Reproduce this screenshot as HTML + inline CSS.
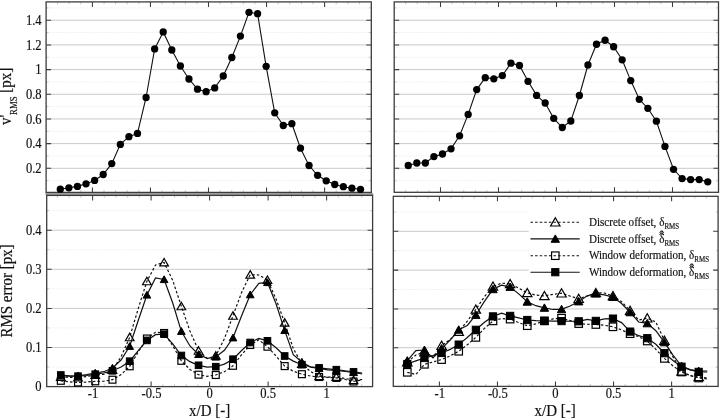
<!DOCTYPE html>
<html><head><meta charset="utf-8"><title>RMS profiles</title>
<style>
html,body{margin:0;padding:0;background:#fff}
body{width:720px;height:420px;overflow:hidden}
svg{display:block}
text{font-family:"Liberation Serif","DejaVu Serif",serif;fill:#111;stroke:#111;stroke-width:0.18px}
</style></head><body>
<svg width="720" height="420" viewBox="0 0 720 420">
<rect width="720" height="420" fill="#fff"/>
<g>
<line x1="46.1" y1="180.66" x2="371.3" y2="180.66" stroke="#ececec" stroke-width="1" stroke-dasharray="1.2 1.2"/>
<line x1="46.1" y1="155.98" x2="371.3" y2="155.98" stroke="#ececec" stroke-width="1" stroke-dasharray="1.2 1.2"/>
<line x1="46.1" y1="131.3" x2="371.3" y2="131.3" stroke="#ececec" stroke-width="1" stroke-dasharray="1.2 1.2"/>
<line x1="46.1" y1="106.62" x2="371.3" y2="106.62" stroke="#ececec" stroke-width="1" stroke-dasharray="1.2 1.2"/>
<line x1="46.1" y1="81.94" x2="371.3" y2="81.94" stroke="#ececec" stroke-width="1" stroke-dasharray="1.2 1.2"/>
<line x1="46.1" y1="57.26" x2="371.3" y2="57.26" stroke="#ececec" stroke-width="1" stroke-dasharray="1.2 1.2"/>
<line x1="46.1" y1="32.58" x2="371.3" y2="32.58" stroke="#ececec" stroke-width="1" stroke-dasharray="1.2 1.2"/>
<line x1="46.1" y1="7.9" x2="371.3" y2="7.9" stroke="#ececec" stroke-width="1" stroke-dasharray="1.2 1.2"/>
<line x1="46.1" y1="168.32" x2="371.3" y2="168.32" stroke="#cacaca" stroke-width="1"/>
<line x1="46.1" y1="143.64" x2="371.3" y2="143.64" stroke="#cacaca" stroke-width="1"/>
<line x1="46.1" y1="118.96" x2="371.3" y2="118.96" stroke="#cacaca" stroke-width="1"/>
<line x1="46.1" y1="94.28" x2="371.3" y2="94.28" stroke="#cacaca" stroke-width="1"/>
<line x1="46.1" y1="69.6" x2="371.3" y2="69.6" stroke="#cacaca" stroke-width="1"/>
<line x1="46.1" y1="44.92" x2="371.3" y2="44.92" stroke="#cacaca" stroke-width="1"/>
<line x1="46.1" y1="20.24" x2="371.3" y2="20.24" stroke="#cacaca" stroke-width="1"/>
<path d="M57.57 1.9v2.4M57.57 192.4v-2.4" stroke="#bcbcbc" stroke-width="0.8"/>
<path d="M69.18 1.9v2.4M69.18 192.4v-2.4" stroke="#bcbcbc" stroke-width="0.8"/>
<path d="M80.79 1.9v2.4M80.79 192.4v-2.4" stroke="#bcbcbc" stroke-width="0.8"/>
<path d="M104.01 1.9v2.4M104.01 192.4v-2.4" stroke="#bcbcbc" stroke-width="0.8"/>
<path d="M115.62 1.9v2.4M115.62 192.4v-2.4" stroke="#bcbcbc" stroke-width="0.8"/>
<path d="M127.23 1.9v2.4M127.23 192.4v-2.4" stroke="#bcbcbc" stroke-width="0.8"/>
<path d="M138.84 1.9v2.4M138.84 192.4v-2.4" stroke="#bcbcbc" stroke-width="0.8"/>
<path d="M162.06 1.9v2.4M162.06 192.4v-2.4" stroke="#bcbcbc" stroke-width="0.8"/>
<path d="M173.67 1.9v2.4M173.67 192.4v-2.4" stroke="#bcbcbc" stroke-width="0.8"/>
<path d="M185.28 1.9v2.4M185.28 192.4v-2.4" stroke="#bcbcbc" stroke-width="0.8"/>
<path d="M196.89 1.9v2.4M196.89 192.4v-2.4" stroke="#bcbcbc" stroke-width="0.8"/>
<path d="M220.11 1.9v2.4M220.11 192.4v-2.4" stroke="#bcbcbc" stroke-width="0.8"/>
<path d="M231.72 1.9v2.4M231.72 192.4v-2.4" stroke="#bcbcbc" stroke-width="0.8"/>
<path d="M243.33 1.9v2.4M243.33 192.4v-2.4" stroke="#bcbcbc" stroke-width="0.8"/>
<path d="M254.94 1.9v2.4M254.94 192.4v-2.4" stroke="#bcbcbc" stroke-width="0.8"/>
<path d="M278.16 1.9v2.4M278.16 192.4v-2.4" stroke="#bcbcbc" stroke-width="0.8"/>
<path d="M289.77 1.9v2.4M289.77 192.4v-2.4" stroke="#bcbcbc" stroke-width="0.8"/>
<path d="M301.38 1.9v2.4M301.38 192.4v-2.4" stroke="#bcbcbc" stroke-width="0.8"/>
<path d="M312.99 1.9v2.4M312.99 192.4v-2.4" stroke="#bcbcbc" stroke-width="0.8"/>
<path d="M336.21 1.9v2.4M336.21 192.4v-2.4" stroke="#bcbcbc" stroke-width="0.8"/>
<path d="M347.82 1.9v2.4M347.82 192.4v-2.4" stroke="#bcbcbc" stroke-width="0.8"/>
<path d="M359.43 1.9v2.4M359.43 192.4v-2.4" stroke="#bcbcbc" stroke-width="0.8"/>
<path d="M46.1 180.66h2.4M371.3 180.66h-2.4" stroke="#bcbcbc" stroke-width="0.8"/>
<path d="M46.1 155.98h2.4M371.3 155.98h-2.4" stroke="#bcbcbc" stroke-width="0.8"/>
<path d="M46.1 131.3h2.4M371.3 131.3h-2.4" stroke="#bcbcbc" stroke-width="0.8"/>
<path d="M46.1 106.62h2.4M371.3 106.62h-2.4" stroke="#bcbcbc" stroke-width="0.8"/>
<path d="M46.1 81.94h2.4M371.3 81.94h-2.4" stroke="#bcbcbc" stroke-width="0.8"/>
<path d="M46.1 57.26h2.4M371.3 57.26h-2.4" stroke="#bcbcbc" stroke-width="0.8"/>
<path d="M46.1 32.58h2.4M371.3 32.58h-2.4" stroke="#bcbcbc" stroke-width="0.8"/>
<path d="M46.1 7.9h2.4M371.3 7.9h-2.4" stroke="#bcbcbc" stroke-width="0.8"/>
<path d="M92.4 1.9v5M92.4 192.4v-5" stroke="#3c3c3c" stroke-width="1.05"/>
<path d="M150.45 1.9v5M150.45 192.4v-5" stroke="#3c3c3c" stroke-width="1.05"/>
<path d="M208.5 1.9v5M208.5 192.4v-5" stroke="#3c3c3c" stroke-width="1.05"/>
<path d="M266.55 1.9v5M266.55 192.4v-5" stroke="#3c3c3c" stroke-width="1.05"/>
<path d="M324.6 1.9v5M324.6 192.4v-5" stroke="#3c3c3c" stroke-width="1.05"/>
<path d="M46.1 168.32h5M371.3 168.32h-5" stroke="#3c3c3c" stroke-width="1.05"/>
<path d="M46.1 143.64h5M371.3 143.64h-5" stroke="#3c3c3c" stroke-width="1.05"/>
<path d="M46.1 118.96h5M371.3 118.96h-5" stroke="#3c3c3c" stroke-width="1.05"/>
<path d="M46.1 94.28h5M371.3 94.28h-5" stroke="#3c3c3c" stroke-width="1.05"/>
<path d="M46.1 69.6h5M371.3 69.6h-5" stroke="#3c3c3c" stroke-width="1.05"/>
<path d="M46.1 44.92h5M371.3 44.92h-5" stroke="#3c3c3c" stroke-width="1.05"/>
<path d="M46.1 20.24h5M371.3 20.24h-5" stroke="#3c3c3c" stroke-width="1.05"/>
<rect x="46.1" y="1.9" width="325.2" height="190.5" fill="none" stroke="#3c3c3c" stroke-width="1.3"/>
<polyline fill="none" stroke="#111" stroke-width="1.1" points="60.3,189.2 68.88,187.8 77.45,186.4 86.03,183.8 94.61,180.4 103.19,174.5 111.76,163.6 120.34,144.4 128.92,136.7 137.49,133.4 146.07,97.5 154.65,48.9 163.22,31.9 171.8,50 180.38,66 188.95,79 197.53,89.2 206.11,91.7 214.69,87.9 223.26,76 231.84,57.5 240.42,36.1 248.99,12.3 257.57,13.7 266.15,66.3 274.73,112.8 283.3,125.5 291.88,123.7 300.46,148.2 309.03,165.5 317.61,175.3 326.19,180.8 334.76,184.5 343.34,186.7 351.92,188.2 360.5,189.3"/>
<g fill="#000"><circle cx="60.3" cy="189.2" r="3.65"/><circle cx="68.88" cy="187.8" r="3.65"/><circle cx="77.45" cy="186.4" r="3.65"/><circle cx="86.03" cy="183.8" r="3.65"/><circle cx="94.61" cy="180.4" r="3.65"/><circle cx="103.19" cy="174.5" r="3.65"/><circle cx="111.76" cy="163.6" r="3.65"/><circle cx="120.34" cy="144.4" r="3.65"/><circle cx="128.92" cy="136.7" r="3.65"/><circle cx="137.49" cy="133.4" r="3.65"/><circle cx="146.07" cy="97.5" r="3.65"/><circle cx="154.65" cy="48.9" r="3.65"/><circle cx="163.22" cy="31.9" r="3.65"/><circle cx="171.8" cy="50" r="3.65"/><circle cx="180.38" cy="66" r="3.65"/><circle cx="188.95" cy="79" r="3.65"/><circle cx="197.53" cy="89.2" r="3.65"/><circle cx="206.11" cy="91.7" r="3.65"/><circle cx="214.69" cy="87.9" r="3.65"/><circle cx="223.26" cy="76" r="3.65"/><circle cx="231.84" cy="57.5" r="3.65"/><circle cx="240.42" cy="36.1" r="3.65"/><circle cx="248.99" cy="12.3" r="3.65"/><circle cx="257.57" cy="13.7" r="3.65"/><circle cx="266.15" cy="66.3" r="3.65"/><circle cx="274.73" cy="112.8" r="3.65"/><circle cx="283.3" cy="125.5" r="3.65"/><circle cx="291.88" cy="123.7" r="3.65"/><circle cx="300.46" cy="148.2" r="3.65"/><circle cx="309.03" cy="165.5" r="3.65"/><circle cx="317.61" cy="175.3" r="3.65"/><circle cx="326.19" cy="180.8" r="3.65"/><circle cx="334.76" cy="184.5" r="3.65"/><circle cx="343.34" cy="186.7" r="3.65"/><circle cx="351.92" cy="188.2" r="3.65"/><circle cx="360.5" cy="189.3" r="3.65"/></g>
</g>
<g>
<line x1="394.2" y1="180.66" x2="718.5" y2="180.66" stroke="#ececec" stroke-width="1" stroke-dasharray="1.2 1.2"/>
<line x1="394.2" y1="155.98" x2="718.5" y2="155.98" stroke="#ececec" stroke-width="1" stroke-dasharray="1.2 1.2"/>
<line x1="394.2" y1="131.3" x2="718.5" y2="131.3" stroke="#ececec" stroke-width="1" stroke-dasharray="1.2 1.2"/>
<line x1="394.2" y1="106.62" x2="718.5" y2="106.62" stroke="#ececec" stroke-width="1" stroke-dasharray="1.2 1.2"/>
<line x1="394.2" y1="81.94" x2="718.5" y2="81.94" stroke="#ececec" stroke-width="1" stroke-dasharray="1.2 1.2"/>
<line x1="394.2" y1="57.26" x2="718.5" y2="57.26" stroke="#ececec" stroke-width="1" stroke-dasharray="1.2 1.2"/>
<line x1="394.2" y1="32.58" x2="718.5" y2="32.58" stroke="#ececec" stroke-width="1" stroke-dasharray="1.2 1.2"/>
<line x1="394.2" y1="7.9" x2="718.5" y2="7.9" stroke="#ececec" stroke-width="1" stroke-dasharray="1.2 1.2"/>
<line x1="394.2" y1="168.32" x2="718.5" y2="168.32" stroke="#cacaca" stroke-width="1"/>
<line x1="394.2" y1="143.64" x2="718.5" y2="143.64" stroke="#cacaca" stroke-width="1"/>
<line x1="394.2" y1="118.96" x2="718.5" y2="118.96" stroke="#cacaca" stroke-width="1"/>
<line x1="394.2" y1="94.28" x2="718.5" y2="94.28" stroke="#cacaca" stroke-width="1"/>
<line x1="394.2" y1="69.6" x2="718.5" y2="69.6" stroke="#cacaca" stroke-width="1"/>
<line x1="394.2" y1="44.92" x2="718.5" y2="44.92" stroke="#cacaca" stroke-width="1"/>
<line x1="394.2" y1="20.24" x2="718.5" y2="20.24" stroke="#cacaca" stroke-width="1"/>
<path d="M405.7 1.9v2.4M405.7 192.3v-2.4" stroke="#bcbcbc" stroke-width="0.8"/>
<path d="M417.3 1.9v2.4M417.3 192.3v-2.4" stroke="#bcbcbc" stroke-width="0.8"/>
<path d="M428.9 1.9v2.4M428.9 192.3v-2.4" stroke="#bcbcbc" stroke-width="0.8"/>
<path d="M452.1 1.9v2.4M452.1 192.3v-2.4" stroke="#bcbcbc" stroke-width="0.8"/>
<path d="M463.7 1.9v2.4M463.7 192.3v-2.4" stroke="#bcbcbc" stroke-width="0.8"/>
<path d="M475.3 1.9v2.4M475.3 192.3v-2.4" stroke="#bcbcbc" stroke-width="0.8"/>
<path d="M486.9 1.9v2.4M486.9 192.3v-2.4" stroke="#bcbcbc" stroke-width="0.8"/>
<path d="M510.1 1.9v2.4M510.1 192.3v-2.4" stroke="#bcbcbc" stroke-width="0.8"/>
<path d="M521.7 1.9v2.4M521.7 192.3v-2.4" stroke="#bcbcbc" stroke-width="0.8"/>
<path d="M533.3 1.9v2.4M533.3 192.3v-2.4" stroke="#bcbcbc" stroke-width="0.8"/>
<path d="M544.9 1.9v2.4M544.9 192.3v-2.4" stroke="#bcbcbc" stroke-width="0.8"/>
<path d="M568.1 1.9v2.4M568.1 192.3v-2.4" stroke="#bcbcbc" stroke-width="0.8"/>
<path d="M579.7 1.9v2.4M579.7 192.3v-2.4" stroke="#bcbcbc" stroke-width="0.8"/>
<path d="M591.3 1.9v2.4M591.3 192.3v-2.4" stroke="#bcbcbc" stroke-width="0.8"/>
<path d="M602.9 1.9v2.4M602.9 192.3v-2.4" stroke="#bcbcbc" stroke-width="0.8"/>
<path d="M626.1 1.9v2.4M626.1 192.3v-2.4" stroke="#bcbcbc" stroke-width="0.8"/>
<path d="M637.7 1.9v2.4M637.7 192.3v-2.4" stroke="#bcbcbc" stroke-width="0.8"/>
<path d="M649.3 1.9v2.4M649.3 192.3v-2.4" stroke="#bcbcbc" stroke-width="0.8"/>
<path d="M660.9 1.9v2.4M660.9 192.3v-2.4" stroke="#bcbcbc" stroke-width="0.8"/>
<path d="M684.1 1.9v2.4M684.1 192.3v-2.4" stroke="#bcbcbc" stroke-width="0.8"/>
<path d="M695.7 1.9v2.4M695.7 192.3v-2.4" stroke="#bcbcbc" stroke-width="0.8"/>
<path d="M707.3 1.9v2.4M707.3 192.3v-2.4" stroke="#bcbcbc" stroke-width="0.8"/>
<path d="M394.2 180.66h2.4M718.5 180.66h-2.4" stroke="#bcbcbc" stroke-width="0.8"/>
<path d="M394.2 155.98h2.4M718.5 155.98h-2.4" stroke="#bcbcbc" stroke-width="0.8"/>
<path d="M394.2 131.3h2.4M718.5 131.3h-2.4" stroke="#bcbcbc" stroke-width="0.8"/>
<path d="M394.2 106.62h2.4M718.5 106.62h-2.4" stroke="#bcbcbc" stroke-width="0.8"/>
<path d="M394.2 81.94h2.4M718.5 81.94h-2.4" stroke="#bcbcbc" stroke-width="0.8"/>
<path d="M394.2 57.26h2.4M718.5 57.26h-2.4" stroke="#bcbcbc" stroke-width="0.8"/>
<path d="M394.2 32.58h2.4M718.5 32.58h-2.4" stroke="#bcbcbc" stroke-width="0.8"/>
<path d="M394.2 7.9h2.4M718.5 7.9h-2.4" stroke="#bcbcbc" stroke-width="0.8"/>
<path d="M440.5 1.9v5M440.5 192.3v-5" stroke="#3c3c3c" stroke-width="1.05"/>
<path d="M498.5 1.9v5M498.5 192.3v-5" stroke="#3c3c3c" stroke-width="1.05"/>
<path d="M556.5 1.9v5M556.5 192.3v-5" stroke="#3c3c3c" stroke-width="1.05"/>
<path d="M614.5 1.9v5M614.5 192.3v-5" stroke="#3c3c3c" stroke-width="1.05"/>
<path d="M672.5 1.9v5M672.5 192.3v-5" stroke="#3c3c3c" stroke-width="1.05"/>
<path d="M394.2 168.32h5M718.5 168.32h-5" stroke="#3c3c3c" stroke-width="1.05"/>
<path d="M394.2 143.64h5M718.5 143.64h-5" stroke="#3c3c3c" stroke-width="1.05"/>
<path d="M394.2 118.96h5M718.5 118.96h-5" stroke="#3c3c3c" stroke-width="1.05"/>
<path d="M394.2 94.28h5M718.5 94.28h-5" stroke="#3c3c3c" stroke-width="1.05"/>
<path d="M394.2 69.6h5M718.5 69.6h-5" stroke="#3c3c3c" stroke-width="1.05"/>
<path d="M394.2 44.92h5M718.5 44.92h-5" stroke="#3c3c3c" stroke-width="1.05"/>
<path d="M394.2 20.24h5M718.5 20.24h-5" stroke="#3c3c3c" stroke-width="1.05"/>
<rect x="394.2" y="1.9" width="324.3" height="190.4" fill="none" stroke="#3c3c3c" stroke-width="1.3"/>
<polyline fill="none" stroke="#111" stroke-width="1.1" points="408.25,165.5 416.81,163 425.36,163 433.92,156.6 442.48,154 451.04,148.8 459.59,135.8 468.15,114.4 476.71,89.6 485.26,77.7 493.82,78.8 502.38,75.6 510.93,63.2 519.49,65.5 528.05,81.3 536.61,95.4 545.16,103 553.72,118.3 562.28,127.5 570.83,121 579.39,95.5 587.95,65 596.5,44.25 605.06,40.25 613.62,46.75 622.17,59.8 630.73,80.6 639.29,99.3 647.85,108.3 656.4,121.2 664.96,146.4 673.52,169.3 682.07,178.6 690.63,179.6 699.19,179.6 707.75,181.8"/>
<g fill="#000"><circle cx="408.25" cy="165.5" r="3.65"/><circle cx="416.81" cy="163" r="3.65"/><circle cx="425.36" cy="163" r="3.65"/><circle cx="433.92" cy="156.6" r="3.65"/><circle cx="442.48" cy="154" r="3.65"/><circle cx="451.04" cy="148.8" r="3.65"/><circle cx="459.59" cy="135.8" r="3.65"/><circle cx="468.15" cy="114.4" r="3.65"/><circle cx="476.71" cy="89.6" r="3.65"/><circle cx="485.26" cy="77.7" r="3.65"/><circle cx="493.82" cy="78.8" r="3.65"/><circle cx="502.38" cy="75.6" r="3.65"/><circle cx="510.93" cy="63.2" r="3.65"/><circle cx="519.49" cy="65.5" r="3.65"/><circle cx="528.05" cy="81.3" r="3.65"/><circle cx="536.61" cy="95.4" r="3.65"/><circle cx="545.16" cy="103" r="3.65"/><circle cx="553.72" cy="118.3" r="3.65"/><circle cx="562.28" cy="127.5" r="3.65"/><circle cx="570.83" cy="121" r="3.65"/><circle cx="579.39" cy="95.5" r="3.65"/><circle cx="587.95" cy="65" r="3.65"/><circle cx="596.5" cy="44.25" r="3.65"/><circle cx="605.06" cy="40.25" r="3.65"/><circle cx="613.62" cy="46.75" r="3.65"/><circle cx="622.17" cy="59.8" r="3.65"/><circle cx="630.73" cy="80.6" r="3.65"/><circle cx="639.29" cy="99.3" r="3.65"/><circle cx="647.85" cy="108.3" r="3.65"/><circle cx="656.4" cy="121.2" r="3.65"/><circle cx="664.96" cy="146.4" r="3.65"/><circle cx="673.52" cy="169.3" r="3.65"/><circle cx="682.07" cy="178.6" r="3.65"/><circle cx="690.63" cy="179.6" r="3.65"/><circle cx="699.19" cy="179.6" r="3.65"/><circle cx="707.75" cy="181.8" r="3.65"/></g>
</g>
<rect x="45.4" y="193" width="327.8" height="2" fill="#9c9c9c"/>
<g>
<line x1="46.7" y1="367.05" x2="372.6" y2="367.05" stroke="#ececec" stroke-width="1" stroke-dasharray="1.2 1.2"/>
<line x1="46.7" y1="327.95" x2="372.6" y2="327.95" stroke="#ececec" stroke-width="1" stroke-dasharray="1.2 1.2"/>
<line x1="46.7" y1="288.85" x2="372.6" y2="288.85" stroke="#ececec" stroke-width="1" stroke-dasharray="1.2 1.2"/>
<line x1="46.7" y1="249.75" x2="372.6" y2="249.75" stroke="#ececec" stroke-width="1" stroke-dasharray="1.2 1.2"/>
<line x1="46.7" y1="210.65" x2="372.6" y2="210.65" stroke="#ececec" stroke-width="1" stroke-dasharray="1.2 1.2"/>
<line x1="46.7" y1="347.5" x2="372.6" y2="347.5" stroke="#cacaca" stroke-width="1"/>
<line x1="46.7" y1="308.4" x2="372.6" y2="308.4" stroke="#cacaca" stroke-width="1"/>
<line x1="46.7" y1="269.3" x2="372.6" y2="269.3" stroke="#cacaca" stroke-width="1"/>
<line x1="46.7" y1="230.2" x2="372.6" y2="230.2" stroke="#cacaca" stroke-width="1"/>
<path d="M57.5 195.4v2.4M57.5 386.6v-2.4" stroke="#bcbcbc" stroke-width="0.8"/>
<path d="M69.2 195.4v2.4M69.2 386.6v-2.4" stroke="#bcbcbc" stroke-width="0.8"/>
<path d="M80.9 195.4v2.4M80.9 386.6v-2.4" stroke="#bcbcbc" stroke-width="0.8"/>
<path d="M104.3 195.4v2.4M104.3 386.6v-2.4" stroke="#bcbcbc" stroke-width="0.8"/>
<path d="M116 195.4v2.4M116 386.6v-2.4" stroke="#bcbcbc" stroke-width="0.8"/>
<path d="M127.7 195.4v2.4M127.7 386.6v-2.4" stroke="#bcbcbc" stroke-width="0.8"/>
<path d="M139.4 195.4v2.4M139.4 386.6v-2.4" stroke="#bcbcbc" stroke-width="0.8"/>
<path d="M162.8 195.4v2.4M162.8 386.6v-2.4" stroke="#bcbcbc" stroke-width="0.8"/>
<path d="M174.5 195.4v2.4M174.5 386.6v-2.4" stroke="#bcbcbc" stroke-width="0.8"/>
<path d="M186.2 195.4v2.4M186.2 386.6v-2.4" stroke="#bcbcbc" stroke-width="0.8"/>
<path d="M197.9 195.4v2.4M197.9 386.6v-2.4" stroke="#bcbcbc" stroke-width="0.8"/>
<path d="M221.3 195.4v2.4M221.3 386.6v-2.4" stroke="#bcbcbc" stroke-width="0.8"/>
<path d="M233 195.4v2.4M233 386.6v-2.4" stroke="#bcbcbc" stroke-width="0.8"/>
<path d="M244.7 195.4v2.4M244.7 386.6v-2.4" stroke="#bcbcbc" stroke-width="0.8"/>
<path d="M256.4 195.4v2.4M256.4 386.6v-2.4" stroke="#bcbcbc" stroke-width="0.8"/>
<path d="M279.8 195.4v2.4M279.8 386.6v-2.4" stroke="#bcbcbc" stroke-width="0.8"/>
<path d="M291.5 195.4v2.4M291.5 386.6v-2.4" stroke="#bcbcbc" stroke-width="0.8"/>
<path d="M303.2 195.4v2.4M303.2 386.6v-2.4" stroke="#bcbcbc" stroke-width="0.8"/>
<path d="M314.9 195.4v2.4M314.9 386.6v-2.4" stroke="#bcbcbc" stroke-width="0.8"/>
<path d="M338.3 195.4v2.4M338.3 386.6v-2.4" stroke="#bcbcbc" stroke-width="0.8"/>
<path d="M350 195.4v2.4M350 386.6v-2.4" stroke="#bcbcbc" stroke-width="0.8"/>
<path d="M361.7 195.4v2.4M361.7 386.6v-2.4" stroke="#bcbcbc" stroke-width="0.8"/>
<path d="M46.7 367.05h2.4M372.6 367.05h-2.4" stroke="#bcbcbc" stroke-width="0.8"/>
<path d="M46.7 327.95h2.4M372.6 327.95h-2.4" stroke="#bcbcbc" stroke-width="0.8"/>
<path d="M46.7 288.85h2.4M372.6 288.85h-2.4" stroke="#bcbcbc" stroke-width="0.8"/>
<path d="M46.7 249.75h2.4M372.6 249.75h-2.4" stroke="#bcbcbc" stroke-width="0.8"/>
<path d="M46.7 210.65h2.4M372.6 210.65h-2.4" stroke="#bcbcbc" stroke-width="0.8"/>
<path d="M92.6 195.4v5M92.6 386.6v-5" stroke="#3c3c3c" stroke-width="1.05"/>
<path d="M151.1 195.4v5M151.1 386.6v-5" stroke="#3c3c3c" stroke-width="1.05"/>
<path d="M209.6 195.4v5M209.6 386.6v-5" stroke="#3c3c3c" stroke-width="1.05"/>
<path d="M268.1 195.4v5M268.1 386.6v-5" stroke="#3c3c3c" stroke-width="1.05"/>
<path d="M326.6 195.4v5M326.6 386.6v-5" stroke="#3c3c3c" stroke-width="1.05"/>
<path d="M46.7 347.5h5M372.6 347.5h-5" stroke="#3c3c3c" stroke-width="1.05"/>
<path d="M46.7 308.4h5M372.6 308.4h-5" stroke="#3c3c3c" stroke-width="1.05"/>
<path d="M46.7 269.3h5M372.6 269.3h-5" stroke="#3c3c3c" stroke-width="1.05"/>
<path d="M46.7 230.2h5M372.6 230.2h-5" stroke="#3c3c3c" stroke-width="1.05"/>
<rect x="46.7" y="195.4" width="325.9" height="191.2" fill="none" stroke="#3c3c3c" stroke-width="1.3"/>
<polyline fill="none" stroke="#111" stroke-width="1.2" stroke-dasharray="2.5 2.1" points="60.8,377 69.41,377.44 78.02,377.5 86.63,376.59 95.24,375 103.85,374.39 112.46,370 121.07,356.84 129.68,337.3 138.29,308.43 146.9,281.3 155.51,265 164.12,262.5 172.73,280.44 181.34,306.3 189.95,330.98 198.56,350.8 207.17,358.58 215.78,355.8 224.39,338.68 233,315.8 241.61,292.42 250.22,274.7 258.83,275 267.44,280 276.05,299.1 284.66,322.7 293.27,348.5 301.88,364 310.49,371.5 319.1,376.2 327.71,377.16 336.32,377 344.93,378.45 353.54,380.2 362.15,379.5"/>
<path d="M60.8 372.93L65.12 380.47H56.48Z" fill="none" stroke="#000" stroke-width="1.2"/><path d="M78.02 373.43L82.34 380.97H73.7Z" fill="none" stroke="#000" stroke-width="1.2"/><path d="M95.24 370.93L99.56 378.47H90.92Z" fill="none" stroke="#000" stroke-width="1.2"/><path d="M112.46 365.93L116.78 373.47H108.14Z" fill="none" stroke="#000" stroke-width="1.2"/><path d="M129.68 333.23L134 340.77H125.36Z" fill="none" stroke="#000" stroke-width="1.2"/><path d="M146.9 277.23L151.22 284.77H142.58Z" fill="none" stroke="#000" stroke-width="1.2"/><path d="M164.12 258.43L168.44 265.97H159.8Z" fill="none" stroke="#000" stroke-width="1.2"/><path d="M181.34 302.23L185.66 309.77H177.02Z" fill="none" stroke="#000" stroke-width="1.2"/><path d="M198.56 346.73L202.88 354.27H194.24Z" fill="none" stroke="#000" stroke-width="1.2"/><path d="M215.78 351.73L220.1 359.27H211.46Z" fill="none" stroke="#000" stroke-width="1.2"/><path d="M233 311.73L237.32 319.27H228.68Z" fill="none" stroke="#000" stroke-width="1.2"/><path d="M250.22 270.63L254.54 278.17H245.9Z" fill="none" stroke="#000" stroke-width="1.2"/><path d="M267.44 275.93L271.76 283.47H263.12Z" fill="none" stroke="#000" stroke-width="1.2"/><path d="M284.66 318.63L288.98 326.17H280.34Z" fill="none" stroke="#000" stroke-width="1.2"/><path d="M301.88 359.93L306.2 367.47H297.56Z" fill="none" stroke="#000" stroke-width="1.2"/><path d="M319.1 372.13L323.42 379.67H314.78Z" fill="none" stroke="#000" stroke-width="1.2"/><path d="M336.32 372.93L340.64 380.47H332Z" fill="none" stroke="#000" stroke-width="1.2"/><path d="M353.54 376.13L357.86 383.67H349.22Z" fill="none" stroke="#000" stroke-width="1.2"/>
<polyline fill="none" stroke="#111" stroke-width="1.2" points="60.8,376 69.41,376.06 78.02,375.8 86.63,374.7 95.24,373 103.85,371.68 112.46,368 121.07,360.04 129.68,346.3 138.29,320.26 146.9,295 155.51,278 164.12,279.5 172.73,302.99 181.34,331.3 189.95,345.93 198.56,354.4 207.17,358.34 215.78,357 224.39,350.26 233,337.8 241.61,315.81 250.22,294.7 258.83,283.3 267.44,282.5 276.05,303.71 284.66,330.4 293.27,354.6 301.88,362 310.49,367.1 319.1,368.5 327.71,369.78 336.32,370.5 344.93,371.5 353.54,372.5 362.15,374"/>
<path d="M60.8 372.3L64.66 379.1H56.94Z" fill="#000" stroke="#000" stroke-width="1"/><path d="M78.02 372.1L81.88 378.9H74.16Z" fill="#000" stroke="#000" stroke-width="1"/><path d="M95.24 369.3L99.1 376.1H91.38Z" fill="#000" stroke="#000" stroke-width="1"/><path d="M112.46 364.3L116.32 371.1H108.6Z" fill="#000" stroke="#000" stroke-width="1"/><path d="M129.68 342.6L133.54 349.4H125.82Z" fill="#000" stroke="#000" stroke-width="1"/><path d="M146.9 291.3L150.76 298.1H143.04Z" fill="#000" stroke="#000" stroke-width="1"/><path d="M164.12 275.8L167.98 282.6H160.26Z" fill="#000" stroke="#000" stroke-width="1"/><path d="M181.34 327.6L185.2 334.4H177.48Z" fill="#000" stroke="#000" stroke-width="1"/><path d="M198.56 350.7L202.42 357.5H194.7Z" fill="#000" stroke="#000" stroke-width="1"/><path d="M215.78 353.3L219.64 360.1H211.92Z" fill="#000" stroke="#000" stroke-width="1"/><path d="M233 334.1L236.86 340.9H229.14Z" fill="#000" stroke="#000" stroke-width="1"/><path d="M250.22 291L254.08 297.8H246.36Z" fill="#000" stroke="#000" stroke-width="1"/><path d="M267.44 278.8L271.3 285.6H263.58Z" fill="#000" stroke="#000" stroke-width="1"/><path d="M284.66 326.7L288.52 333.5H280.8Z" fill="#000" stroke="#000" stroke-width="1"/><path d="M301.88 358.3L305.74 365.1H298.02Z" fill="#000" stroke="#000" stroke-width="1"/><path d="M319.1 364.8L322.96 371.6H315.24Z" fill="#000" stroke="#000" stroke-width="1"/><path d="M336.32 366.8L340.18 373.6H332.46Z" fill="#000" stroke="#000" stroke-width="1"/><path d="M353.54 368.8L357.4 375.6H349.68Z" fill="#000" stroke="#000" stroke-width="1"/>
<polyline fill="none" stroke="#111" stroke-width="1.2" stroke-dasharray="2.5 2.1" points="60.8,380.8 69.41,381.83 78.02,382.5 86.63,382.11 95.24,381.3 103.85,381.26 112.46,379.7 121.07,374.64 129.68,366.3 138.29,351.91 146.9,338.5 155.51,332.27 164.12,333 172.73,345.69 181.34,360.8 189.95,369.47 198.56,374.7 207.17,376.29 215.78,375 224.39,371.72 233,365.8 241.61,354.72 250.22,345 258.83,339.8 267.44,346.7 276.05,356 284.66,366.1 293.27,371.19 301.88,374.2 310.49,376.05 319.1,377 327.71,377.4 336.32,377.9 344.93,379.53 353.54,381.5 362.15,379.75"/>
<rect x="57.35" y="377.35" width="6.9" height="6.9" fill="none" stroke="#000" stroke-width="1.2"/><rect x="74.57" y="379.05" width="6.9" height="6.9" fill="none" stroke="#000" stroke-width="1.2"/><rect x="91.79" y="377.85" width="6.9" height="6.9" fill="none" stroke="#000" stroke-width="1.2"/><rect x="109.01" y="376.25" width="6.9" height="6.9" fill="none" stroke="#000" stroke-width="1.2"/><rect x="126.23" y="362.85" width="6.9" height="6.9" fill="none" stroke="#000" stroke-width="1.2"/><rect x="143.45" y="335.05" width="6.9" height="6.9" fill="none" stroke="#000" stroke-width="1.2"/><rect x="160.67" y="329.55" width="6.9" height="6.9" fill="none" stroke="#000" stroke-width="1.2"/><rect x="177.89" y="357.35" width="6.9" height="6.9" fill="none" stroke="#000" stroke-width="1.2"/><rect x="195.11" y="371.25" width="6.9" height="6.9" fill="none" stroke="#000" stroke-width="1.2"/><rect x="212.33" y="371.55" width="6.9" height="6.9" fill="none" stroke="#000" stroke-width="1.2"/><rect x="229.55" y="362.35" width="6.9" height="6.9" fill="none" stroke="#000" stroke-width="1.2"/><rect x="246.77" y="341.55" width="6.9" height="6.9" fill="none" stroke="#000" stroke-width="1.2"/><rect x="263.99" y="343.25" width="6.9" height="6.9" fill="none" stroke="#000" stroke-width="1.2"/><rect x="281.21" y="362.65" width="6.9" height="6.9" fill="none" stroke="#000" stroke-width="1.2"/><rect x="298.43" y="370.75" width="6.9" height="6.9" fill="none" stroke="#000" stroke-width="1.2"/><rect x="315.65" y="373.55" width="6.9" height="6.9" fill="none" stroke="#000" stroke-width="1.2"/><rect x="332.87" y="374.45" width="6.9" height="6.9" fill="none" stroke="#000" stroke-width="1.2"/><rect x="350.09" y="378.05" width="6.9" height="6.9" fill="none" stroke="#000" stroke-width="1.2"/>
<polyline fill="none" stroke="#111" stroke-width="1.2" points="60.8,375 69.41,375.8 78.02,376.2 86.63,375.49 95.24,374.2 103.85,372.98 112.46,370.8 121.07,367.09 129.68,361.2 138.29,350.59 146.9,340.4 155.51,334.67 164.12,334.2 172.73,343.85 181.34,355.5 189.95,361.64 198.56,365.3 207.17,367.08 215.78,366.7 224.39,364.08 233,359.2 241.61,350.49 250.22,342.5 258.83,338.4 267.44,340.8 276.05,347.75 284.66,356 293.27,361.1 301.88,364.7 310.49,366.73 319.1,367.9 327.71,368.86 336.32,369.7 344.93,370.77 353.54,371.9 362.15,373"/>
<rect x="57.49" y="371.69" width="6.62" height="6.62" fill="#000" stroke="#000" stroke-width="1"/><rect x="74.71" y="372.89" width="6.62" height="6.62" fill="#000" stroke="#000" stroke-width="1"/><rect x="91.93" y="370.89" width="6.62" height="6.62" fill="#000" stroke="#000" stroke-width="1"/><rect x="109.15" y="367.49" width="6.62" height="6.62" fill="#000" stroke="#000" stroke-width="1"/><rect x="126.37" y="357.89" width="6.62" height="6.62" fill="#000" stroke="#000" stroke-width="1"/><rect x="143.59" y="337.09" width="6.62" height="6.62" fill="#000" stroke="#000" stroke-width="1"/><rect x="160.81" y="330.89" width="6.62" height="6.62" fill="#000" stroke="#000" stroke-width="1"/><rect x="178.03" y="352.19" width="6.62" height="6.62" fill="#000" stroke="#000" stroke-width="1"/><rect x="195.25" y="361.99" width="6.62" height="6.62" fill="#000" stroke="#000" stroke-width="1"/><rect x="212.47" y="363.39" width="6.62" height="6.62" fill="#000" stroke="#000" stroke-width="1"/><rect x="229.69" y="355.89" width="6.62" height="6.62" fill="#000" stroke="#000" stroke-width="1"/><rect x="246.91" y="339.19" width="6.62" height="6.62" fill="#000" stroke="#000" stroke-width="1"/><rect x="264.13" y="337.49" width="6.62" height="6.62" fill="#000" stroke="#000" stroke-width="1"/><rect x="281.35" y="352.69" width="6.62" height="6.62" fill="#000" stroke="#000" stroke-width="1"/><rect x="298.57" y="361.39" width="6.62" height="6.62" fill="#000" stroke="#000" stroke-width="1"/><rect x="315.79" y="364.59" width="6.62" height="6.62" fill="#000" stroke="#000" stroke-width="1"/><rect x="333.01" y="366.39" width="6.62" height="6.62" fill="#000" stroke="#000" stroke-width="1"/><rect x="350.23" y="368.59" width="6.62" height="6.62" fill="#000" stroke="#000" stroke-width="1"/>
</g>
<g>
<line x1="393.3" y1="367.1" x2="718.1" y2="367.1" stroke="#ececec" stroke-width="1" stroke-dasharray="1.2 1.2"/>
<line x1="393.3" y1="328.3" x2="718.1" y2="328.3" stroke="#ececec" stroke-width="1" stroke-dasharray="1.2 1.2"/>
<line x1="393.3" y1="289.5" x2="718.1" y2="289.5" stroke="#ececec" stroke-width="1" stroke-dasharray="1.2 1.2"/>
<line x1="393.3" y1="250.7" x2="718.1" y2="250.7" stroke="#ececec" stroke-width="1" stroke-dasharray="1.2 1.2"/>
<line x1="393.3" y1="211.9" x2="718.1" y2="211.9" stroke="#ececec" stroke-width="1" stroke-dasharray="1.2 1.2"/>
<line x1="393.3" y1="347.7" x2="718.1" y2="347.7" stroke="#cacaca" stroke-width="1"/>
<line x1="393.3" y1="308.9" x2="718.1" y2="308.9" stroke="#cacaca" stroke-width="1"/>
<line x1="393.3" y1="270.1" x2="718.1" y2="270.1" stroke="#cacaca" stroke-width="1"/>
<line x1="393.3" y1="231.3" x2="718.1" y2="231.3" stroke="#cacaca" stroke-width="1"/>
<rect x="528.7" y="208" width="188.7" height="76" fill="#fff"/>
<path d="M404.57 196.3v2.4M404.57 386.4v-2.4" stroke="#bcbcbc" stroke-width="0.8"/>
<path d="M416.18 196.3v2.4M416.18 386.4v-2.4" stroke="#bcbcbc" stroke-width="0.8"/>
<path d="M427.79 196.3v2.4M427.79 386.4v-2.4" stroke="#bcbcbc" stroke-width="0.8"/>
<path d="M451.01 196.3v2.4M451.01 386.4v-2.4" stroke="#bcbcbc" stroke-width="0.8"/>
<path d="M462.62 196.3v2.4M462.62 386.4v-2.4" stroke="#bcbcbc" stroke-width="0.8"/>
<path d="M474.23 196.3v2.4M474.23 386.4v-2.4" stroke="#bcbcbc" stroke-width="0.8"/>
<path d="M485.84 196.3v2.4M485.84 386.4v-2.4" stroke="#bcbcbc" stroke-width="0.8"/>
<path d="M509.06 196.3v2.4M509.06 386.4v-2.4" stroke="#bcbcbc" stroke-width="0.8"/>
<path d="M520.67 196.3v2.4M520.67 386.4v-2.4" stroke="#bcbcbc" stroke-width="0.8"/>
<path d="M532.28 196.3v2.4M532.28 386.4v-2.4" stroke="#bcbcbc" stroke-width="0.8"/>
<path d="M543.89 196.3v2.4M543.89 386.4v-2.4" stroke="#bcbcbc" stroke-width="0.8"/>
<path d="M567.11 196.3v2.4M567.11 386.4v-2.4" stroke="#bcbcbc" stroke-width="0.8"/>
<path d="M578.72 196.3v2.4M578.72 386.4v-2.4" stroke="#bcbcbc" stroke-width="0.8"/>
<path d="M590.33 196.3v2.4M590.33 386.4v-2.4" stroke="#bcbcbc" stroke-width="0.8"/>
<path d="M601.94 196.3v2.4M601.94 386.4v-2.4" stroke="#bcbcbc" stroke-width="0.8"/>
<path d="M625.16 196.3v2.4M625.16 386.4v-2.4" stroke="#bcbcbc" stroke-width="0.8"/>
<path d="M636.77 196.3v2.4M636.77 386.4v-2.4" stroke="#bcbcbc" stroke-width="0.8"/>
<path d="M648.38 196.3v2.4M648.38 386.4v-2.4" stroke="#bcbcbc" stroke-width="0.8"/>
<path d="M659.99 196.3v2.4M659.99 386.4v-2.4" stroke="#bcbcbc" stroke-width="0.8"/>
<path d="M683.21 196.3v2.4M683.21 386.4v-2.4" stroke="#bcbcbc" stroke-width="0.8"/>
<path d="M694.82 196.3v2.4M694.82 386.4v-2.4" stroke="#bcbcbc" stroke-width="0.8"/>
<path d="M706.43 196.3v2.4M706.43 386.4v-2.4" stroke="#bcbcbc" stroke-width="0.8"/>
<path d="M393.3 367.1h2.4M718.1 367.1h-2.4" stroke="#bcbcbc" stroke-width="0.8"/>
<path d="M393.3 328.3h2.4M718.1 328.3h-2.4" stroke="#bcbcbc" stroke-width="0.8"/>
<path d="M393.3 289.5h2.4M718.1 289.5h-2.4" stroke="#bcbcbc" stroke-width="0.8"/>
<path d="M393.3 250.7h2.4M718.1 250.7h-2.4" stroke="#bcbcbc" stroke-width="0.8"/>
<path d="M393.3 211.9h2.4M718.1 211.9h-2.4" stroke="#bcbcbc" stroke-width="0.8"/>
<path d="M439.4 196.3v5M439.4 386.4v-5" stroke="#3c3c3c" stroke-width="1.05"/>
<path d="M497.45 196.3v5M497.45 386.4v-5" stroke="#3c3c3c" stroke-width="1.05"/>
<path d="M555.5 196.3v5M555.5 386.4v-5" stroke="#3c3c3c" stroke-width="1.05"/>
<path d="M613.55 196.3v5M613.55 386.4v-5" stroke="#3c3c3c" stroke-width="1.05"/>
<path d="M671.6 196.3v5M671.6 386.4v-5" stroke="#3c3c3c" stroke-width="1.05"/>
<path d="M393.3 347.7h5M718.1 347.7h-5" stroke="#3c3c3c" stroke-width="1.05"/>
<path d="M393.3 308.9h5M718.1 308.9h-5" stroke="#3c3c3c" stroke-width="1.05"/>
<path d="M393.3 270.1h5M718.1 270.1h-5" stroke="#3c3c3c" stroke-width="1.05"/>
<path d="M393.3 231.3h5M718.1 231.3h-5" stroke="#3c3c3c" stroke-width="1.05"/>
<rect x="393.3" y="196.3" width="324.8" height="190.1" fill="none" stroke="#3c3c3c" stroke-width="1.3"/>
<polyline fill="none" stroke="#111" stroke-width="1.2" stroke-dasharray="2.5 2.1" points="407.3,362 415.87,355 424.44,352 433.01,357 441.58,345.5 450.15,339.53 458.72,331.6 467.29,321.07 475.86,309.4 484.43,296.67 493,286.4 501.57,283.15 510.14,283.9 518.71,288.06 527.28,292.9 535.85,295.13 544.42,295.9 552.99,294.39 561.56,293.2 570.13,296.14 578.7,298.7 587.27,295.96 595.84,292.9 604.41,293 612.98,295.9 621.55,301.7 630.12,310.6 638.69,320 647.26,318.2 655.83,322 664.4,340.5 672.97,356.94 681.54,371.3 690.11,375.68 698.68,376.9 707.25,378"/>
<path d="M407.3 357.6L412 365.8H402.6Z" fill="none" stroke="#000" stroke-width="1.2"/><path d="M424.44 347.6L429.14 355.8H419.74Z" fill="none" stroke="#000" stroke-width="1.2"/><path d="M441.58 341.1L446.28 349.3H436.88Z" fill="none" stroke="#000" stroke-width="1.2"/><path d="M458.72 327.2L463.42 335.4H454.02Z" fill="none" stroke="#000" stroke-width="1.2"/><path d="M475.86 305L480.56 313.2H471.16Z" fill="none" stroke="#000" stroke-width="1.2"/><path d="M493 282L497.7 290.2H488.3Z" fill="none" stroke="#000" stroke-width="1.2"/><path d="M510.14 279.5L514.84 287.7H505.44Z" fill="none" stroke="#000" stroke-width="1.2"/><path d="M527.28 288.5L531.98 296.7H522.58Z" fill="none" stroke="#000" stroke-width="1.2"/><path d="M544.42 291.5L549.12 299.7H539.72Z" fill="none" stroke="#000" stroke-width="1.2"/><path d="M561.56 288.8L566.26 297H556.86Z" fill="none" stroke="#000" stroke-width="1.2"/><path d="M578.7 294.3L583.4 302.5H574Z" fill="none" stroke="#000" stroke-width="1.2"/><path d="M595.84 288.5L600.54 296.7H591.14Z" fill="none" stroke="#000" stroke-width="1.2"/><path d="M612.98 291.5L617.68 299.7H608.28Z" fill="none" stroke="#000" stroke-width="1.2"/><path d="M630.12 306.2L634.82 314.4H625.42Z" fill="none" stroke="#000" stroke-width="1.2"/><path d="M647.26 313.8L651.96 322H642.56Z" fill="none" stroke="#000" stroke-width="1.2"/><path d="M664.4 336.1L669.1 344.3H659.7Z" fill="none" stroke="#000" stroke-width="1.2"/><path d="M681.54 366.9L686.24 375.1H676.84Z" fill="none" stroke="#000" stroke-width="1.2"/><path d="M698.68 372.5L703.38 380.7H693.98Z" fill="none" stroke="#000" stroke-width="1.2"/>
<polyline fill="none" stroke="#111" stroke-width="1.2" points="407.3,360.7 415.87,350.7 424.44,350 433.01,358 441.58,348.6 450.15,340.04 458.72,329.8 467.29,325.5 475.86,315 484.43,301.37 493,289.3 501.57,285.2 510.14,287 518.71,293.88 527.28,301.8 535.85,305.69 544.42,307.9 552.99,309.47 561.56,309.3 570.13,305.98 578.7,301.5 587.27,295.8 595.84,293.6 604.41,294.8 612.98,297.1 621.55,303.5 630.12,312.4 638.69,322 647.26,323.4 655.83,330.7 664.4,342.4 672.97,355.07 681.54,366 690.11,369.66 698.68,371 707.25,371"/>
<path d="M407.3 356.7L411.5 364.1H403.1Z" fill="#000" stroke="#000" stroke-width="1"/><path d="M424.44 346L428.64 353.4H420.24Z" fill="#000" stroke="#000" stroke-width="1"/><path d="M441.58 344.6L445.78 352H437.38Z" fill="#000" stroke="#000" stroke-width="1"/><path d="M458.72 325.8L462.92 333.2H454.52Z" fill="#000" stroke="#000" stroke-width="1"/><path d="M475.86 311L480.06 318.4H471.66Z" fill="#000" stroke="#000" stroke-width="1"/><path d="M493 285.3L497.2 292.7H488.8Z" fill="#000" stroke="#000" stroke-width="1"/><path d="M510.14 283L514.34 290.4H505.94Z" fill="#000" stroke="#000" stroke-width="1"/><path d="M527.28 297.8L531.48 305.2H523.08Z" fill="#000" stroke="#000" stroke-width="1"/><path d="M544.42 303.9L548.62 311.3H540.22Z" fill="#000" stroke="#000" stroke-width="1"/><path d="M561.56 305.3L565.76 312.7H557.36Z" fill="#000" stroke="#000" stroke-width="1"/><path d="M578.7 297.5L582.9 304.9H574.5Z" fill="#000" stroke="#000" stroke-width="1"/><path d="M595.84 289.6L600.04 297H591.64Z" fill="#000" stroke="#000" stroke-width="1"/><path d="M612.98 293.1L617.18 300.5H608.78Z" fill="#000" stroke="#000" stroke-width="1"/><path d="M630.12 308.4L634.32 315.8H625.92Z" fill="#000" stroke="#000" stroke-width="1"/><path d="M647.26 319.4L651.46 326.8H643.06Z" fill="#000" stroke="#000" stroke-width="1"/><path d="M664.4 338.4L668.6 345.8H660.2Z" fill="#000" stroke="#000" stroke-width="1"/><path d="M681.54 362L685.74 369.4H677.34Z" fill="#000" stroke="#000" stroke-width="1"/><path d="M698.68 367L702.88 374.4H694.48Z" fill="#000" stroke="#000" stroke-width="1"/>
<polyline fill="none" stroke="#111" stroke-width="1.2" stroke-dasharray="2.5 2.1" points="407.3,372.3 415.87,374.5 424.44,364.3 433.01,361.97 441.58,359.6 450.15,356 458.72,351.25 467.29,344.83 475.86,337.4 484.43,328.4 493,320.9 501.57,318.56 510.14,319.1 518.71,322.59 527.28,325.7 535.85,323.88 544.42,320.9 552.99,318.91 561.56,318.2 570.13,320.67 578.7,323.6 587.27,324.24 595.84,324.5 604.41,325.28 612.98,326.8 621.55,329.94 630.12,333.7 638.69,336.69 647.26,341 655.83,349.31 664.4,358.4 672.97,365.91 681.54,372 690.11,375.48 698.68,378 707.25,379"/>
<rect x="403.55" y="368.55" width="7.5" height="7.5" fill="none" stroke="#000" stroke-width="1.2"/><rect x="420.69" y="360.55" width="7.5" height="7.5" fill="none" stroke="#000" stroke-width="1.2"/><rect x="437.83" y="355.85" width="7.5" height="7.5" fill="none" stroke="#000" stroke-width="1.2"/><rect x="454.97" y="347.5" width="7.5" height="7.5" fill="none" stroke="#000" stroke-width="1.2"/><rect x="472.11" y="333.65" width="7.5" height="7.5" fill="none" stroke="#000" stroke-width="1.2"/><rect x="489.25" y="317.15" width="7.5" height="7.5" fill="none" stroke="#000" stroke-width="1.2"/><rect x="506.39" y="315.35" width="7.5" height="7.5" fill="none" stroke="#000" stroke-width="1.2"/><rect x="523.53" y="321.95" width="7.5" height="7.5" fill="none" stroke="#000" stroke-width="1.2"/><rect x="540.67" y="317.15" width="7.5" height="7.5" fill="none" stroke="#000" stroke-width="1.2"/><rect x="557.81" y="314.45" width="7.5" height="7.5" fill="none" stroke="#000" stroke-width="1.2"/><rect x="574.95" y="319.85" width="7.5" height="7.5" fill="none" stroke="#000" stroke-width="1.2"/><rect x="592.09" y="320.75" width="7.5" height="7.5" fill="none" stroke="#000" stroke-width="1.2"/><rect x="609.23" y="323.05" width="7.5" height="7.5" fill="none" stroke="#000" stroke-width="1.2"/><rect x="626.37" y="329.95" width="7.5" height="7.5" fill="none" stroke="#000" stroke-width="1.2"/><rect x="643.51" y="337.25" width="7.5" height="7.5" fill="none" stroke="#000" stroke-width="1.2"/><rect x="660.65" y="354.65" width="7.5" height="7.5" fill="none" stroke="#000" stroke-width="1.2"/><rect x="677.79" y="368.25" width="7.5" height="7.5" fill="none" stroke="#000" stroke-width="1.2"/><rect x="694.93" y="374.25" width="7.5" height="7.5" fill="none" stroke="#000" stroke-width="1.2"/>
<polyline fill="none" stroke="#111" stroke-width="1.2" points="407.3,364 415.87,360.94 424.44,358 433.01,355.65 441.58,353 450.15,349.41 458.72,344.6 467.29,337.51 475.86,329.8 484.43,322.21 493,316.4 501.57,313.2 510.14,315.9 518.71,317.86 527.28,320 535.85,320.69 544.42,320.9 552.99,321.04 561.56,321.1 570.13,321.24 578.7,321.3 587.27,319.4 595.84,320.9 604.41,318.9 612.98,318.6 621.55,322.6 630.12,331.6 638.69,335.7 647.26,338.2 655.83,344.3 664.4,353.2 672.97,360.56 681.54,366.7 690.11,369.82 698.68,371.9 707.25,372"/>
<rect x="403.7" y="360.4" width="7.2" height="7.2" fill="#000" stroke="#000" stroke-width="1"/><rect x="420.84" y="354.4" width="7.2" height="7.2" fill="#000" stroke="#000" stroke-width="1"/><rect x="437.98" y="349.4" width="7.2" height="7.2" fill="#000" stroke="#000" stroke-width="1"/><rect x="455.12" y="341" width="7.2" height="7.2" fill="#000" stroke="#000" stroke-width="1"/><rect x="472.26" y="326.2" width="7.2" height="7.2" fill="#000" stroke="#000" stroke-width="1"/><rect x="489.4" y="312.8" width="7.2" height="7.2" fill="#000" stroke="#000" stroke-width="1"/><rect x="506.54" y="312.3" width="7.2" height="7.2" fill="#000" stroke="#000" stroke-width="1"/><rect x="523.68" y="316.4" width="7.2" height="7.2" fill="#000" stroke="#000" stroke-width="1"/><rect x="540.82" y="317.3" width="7.2" height="7.2" fill="#000" stroke="#000" stroke-width="1"/><rect x="557.96" y="317.5" width="7.2" height="7.2" fill="#000" stroke="#000" stroke-width="1"/><rect x="575.1" y="317.7" width="7.2" height="7.2" fill="#000" stroke="#000" stroke-width="1"/><rect x="592.24" y="317.3" width="7.2" height="7.2" fill="#000" stroke="#000" stroke-width="1"/><rect x="609.38" y="315" width="7.2" height="7.2" fill="#000" stroke="#000" stroke-width="1"/><rect x="626.52" y="328" width="7.2" height="7.2" fill="#000" stroke="#000" stroke-width="1"/><rect x="643.66" y="334.6" width="7.2" height="7.2" fill="#000" stroke="#000" stroke-width="1"/><rect x="660.8" y="349.6" width="7.2" height="7.2" fill="#000" stroke="#000" stroke-width="1"/><rect x="677.94" y="363.1" width="7.2" height="7.2" fill="#000" stroke="#000" stroke-width="1"/><rect x="695.08" y="368.3" width="7.2" height="7.2" fill="#000" stroke="#000" stroke-width="1"/>
</g>
<g>
<line x1="530.5" y1="222.2" x2="579.7" y2="222.2" stroke="#111" stroke-width="1.1" stroke-dasharray="2.5 2.1"/>
<path d="M555.3 217.8L560 226H550.6Z" fill="none" stroke="#000" stroke-width="1.2"/>
<text transform="translate(588.9 225.8) scale(0.864 1)" font-size="12.84">Discrete offset, δ<tspan font-size="8.1" dx="0.00" dy="3.1">RMS</tspan></text>
<line x1="530.5" y1="238.9" x2="579.7" y2="238.9" stroke="#111" stroke-width="1.1"/>
<path d="M555.3 234.9L559.5 242.3H551.1Z" fill="#000" stroke="#000" stroke-width="1"/>
<text transform="translate(588.9 242.5) scale(0.864 1)" font-size="12.84">Discrete offset, δ<tspan dx="-5.86" dy="1.2" font-size="17">ˆ</tspan><tspan dx="-5.66" dy="-2" font-size="17">ˆ</tspan><tspan font-size="8.1" dx="0.20" dy="3.9000000000000004">RMS</tspan></text>
<line x1="530.5" y1="255.7" x2="579.7" y2="255.7" stroke="#111" stroke-width="1.1" stroke-dasharray="2.5 2.1"/>
<rect x="551.55" y="251.95" width="7.5" height="7.5" fill="none" stroke="#000" stroke-width="1.2"/>
<text transform="translate(588.9 259.3) scale(0.864 1)" font-size="12.84">Window deformation, δ<tspan font-size="8.1" dx="0.00" dy="3.1">RMS</tspan></text>
<line x1="530.5" y1="272.2" x2="579.7" y2="272.2" stroke="#111" stroke-width="1.1"/>
<rect x="551.7" y="268.6" width="7.2" height="7.2" fill="#000" stroke="#000" stroke-width="1"/>
<text transform="translate(588.9 275.8) scale(0.864 1)" font-size="12.84">Window deformation, δ<tspan dx="-5.86" dy="1.2" font-size="17">ˆ</tspan><tspan dx="-5.66" dy="-2" font-size="17">ˆ</tspan><tspan font-size="8.1" dx="0.20" dy="3.9000000000000004">RMS</tspan></text>
</g>
<g>
<text transform="translate(41.6 173.02) scale(0.905 1)" font-size="13.9" text-anchor="end">0.2</text>
<text transform="translate(41.6 148.34) scale(0.905 1)" font-size="13.9" text-anchor="end">0.4</text>
<text transform="translate(41.6 123.66) scale(0.905 1)" font-size="13.9" text-anchor="end">0.6</text>
<text transform="translate(41.6 98.98) scale(0.905 1)" font-size="13.9" text-anchor="end">0.8</text>
<text transform="translate(41.6 74.3) scale(0.905 1)" font-size="13.9" text-anchor="end">1</text>
<text transform="translate(41.6 49.62) scale(0.905 1)" font-size="13.9" text-anchor="end">1.2</text>
<text transform="translate(41.6 24.94) scale(0.905 1)" font-size="13.9" text-anchor="end">1.4</text>
<text transform="translate(41.6 391.3) scale(0.905 1)" font-size="13.9" text-anchor="end">0</text>
<text transform="translate(41.6 352.2) scale(0.905 1)" font-size="13.9" text-anchor="end">0.1</text>
<text transform="translate(41.6 313.1) scale(0.905 1)" font-size="13.9" text-anchor="end">0.2</text>
<text transform="translate(41.6 274) scale(0.905 1)" font-size="13.9" text-anchor="end">0.3</text>
<text transform="translate(41.6 234.9) scale(0.905 1)" font-size="13.9" text-anchor="end">0.4</text>
<text transform="translate(93 397.75) scale(0.905 1)" font-size="13.9" text-anchor="middle">-1</text>
<text transform="translate(151.5 397.75) scale(0.905 1)" font-size="13.9" text-anchor="middle">-0.5</text>
<text transform="translate(209.6 397.75) scale(0.905 1)" font-size="13.9" text-anchor="middle">0</text>
<text transform="translate(268.1 397.75) scale(0.905 1)" font-size="13.9" text-anchor="middle">0.5</text>
<text transform="translate(326.6 397.75) scale(0.905 1)" font-size="13.9" text-anchor="middle">1</text>
<text transform="translate(439.8 397.75) scale(0.905 1)" font-size="13.9" text-anchor="middle">-1</text>
<text transform="translate(497.85 397.75) scale(0.905 1)" font-size="13.9" text-anchor="middle">-0.5</text>
<text transform="translate(555.5 397.75) scale(0.905 1)" font-size="13.9" text-anchor="middle">0</text>
<text transform="translate(613.55 397.75) scale(0.905 1)" font-size="13.9" text-anchor="middle">0.5</text>
<text transform="translate(671.6 397.75) scale(0.905 1)" font-size="13.9" text-anchor="middle">1</text>
</g>
<text transform="translate(209.6 416) scale(0.943 1)" font-size="15.9" text-anchor="middle">x/D [-]</text>
<text transform="translate(555.2 416) scale(0.943 1)" font-size="15.9" text-anchor="middle">x/D [-]</text>
<text transform="translate(11.6 291) rotate(-90) scale(0.943 1)" font-size="15.9" text-anchor="middle">RMS error [px]</text>
<text transform="translate(11.2 96.4) rotate(-90) scale(0.943 1)" font-size="15.9" text-anchor="middle">v'<tspan font-size="9.3" dy="5.3">RMS</tspan><tspan dy="-5.3"> [px]</tspan></text>
</svg>
</body></html>
